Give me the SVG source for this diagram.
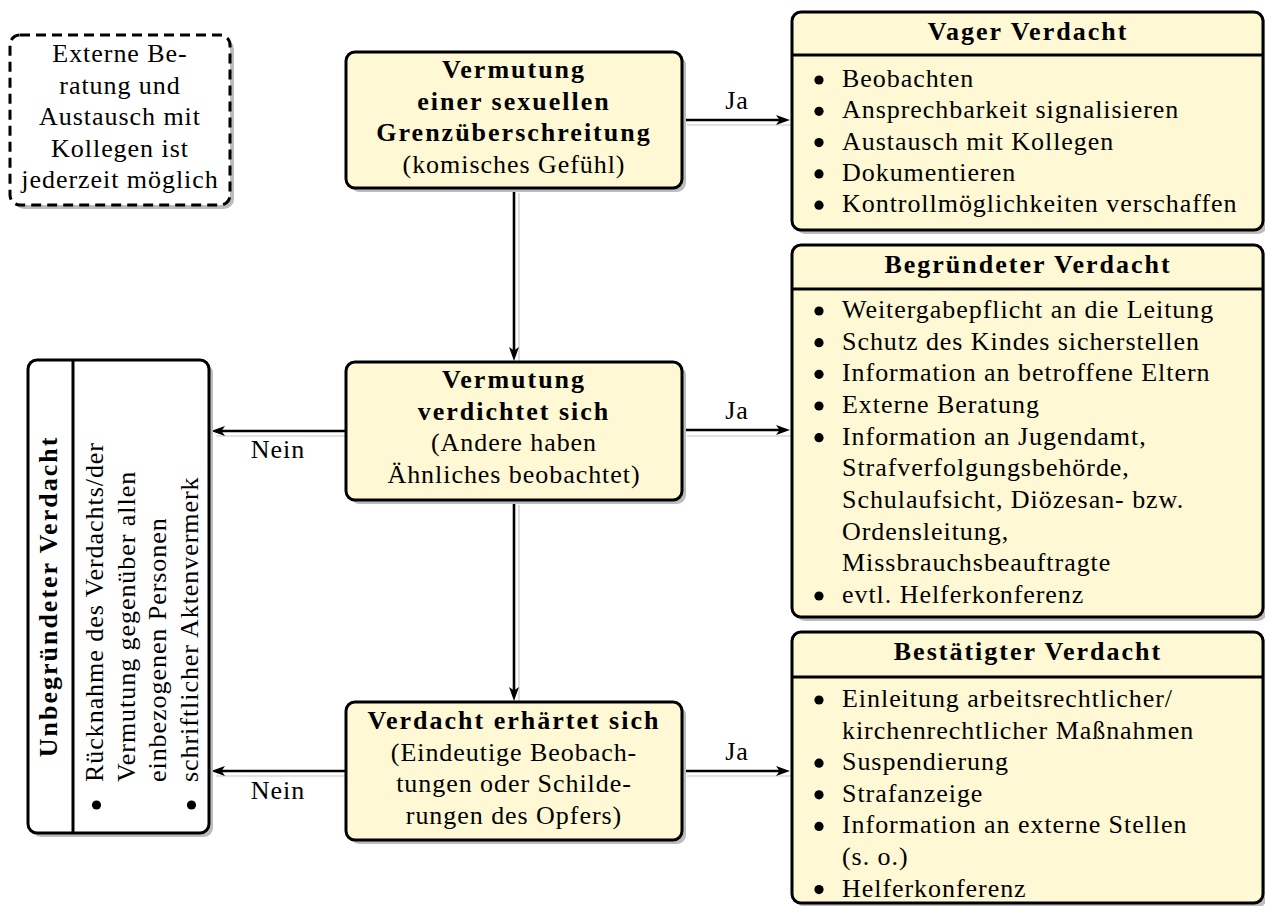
<svg xmlns="http://www.w3.org/2000/svg" width="1265" height="906" viewBox="0 0 1265 906">
<defs>
<style>
.box{fill:#fff8d4;stroke:#000;stroke-width:3}
.wbox{fill:#fff;stroke:#000;stroke-width:3}
.dbox{fill:#fff;stroke:#000;stroke-width:3;stroke-dasharray:10 6}
.sh{fill:#bcbcbc}
.div{stroke:#000;stroke-width:3}
.t{font-family:"Liberation Serif","Times New Roman",serif;font-size:26px;letter-spacing:0.95px;fill:#000}
.b{font-weight:bold;letter-spacing:2px}
.c{text-anchor:middle}
.conn{stroke:#000;stroke-width:2.6;fill:none}
.cs{stroke:#c6c6c6;stroke-width:1.2;fill:none}
.dot{fill:#000}
</style>
<marker id="arr" viewBox="0 0 14 10" refX="4" refY="5" markerWidth="14" markerHeight="10" markerUnits="userSpaceOnUse" orient="auto">
<path d="M0,0 L14,5 L0,10 L3.5,5 Z" fill="#000"/>
</marker>
</defs>
<rect width="1265" height="906" fill="#fff"/>

<g id="connectors">
<g class="cs">
<line x1="519" y1="193" x2="519" y2="366"/>
<line x1="519" y1="505" x2="519" y2="706"/>
<line x1="687" y1="125" x2="796" y2="125"/>
<line x1="687" y1="436" x2="796" y2="436"/>
<line x1="687" y1="776" x2="796" y2="776"/>
<line x1="351" y1="436" x2="216" y2="436"/>
<line x1="351" y1="776" x2="216" y2="776"/>
</g>
<line class="conn" x1="514" y1="188" x2="514" y2="351" marker-end="url(#arr)"/>
<line class="conn" x1="514" y1="500" x2="514" y2="691" marker-end="url(#arr)"/>
<line class="conn" x1="682" y1="120" x2="780" y2="120" marker-end="url(#arr)"/>
<line class="conn" x1="682" y1="430" x2="780" y2="430" marker-end="url(#arr)"/>
<line class="conn" x1="682" y1="771" x2="780" y2="771" marker-end="url(#arr)"/>
<line class="conn" x1="346" y1="431" x2="221" y2="431" marker-end="url(#arr)"/>
<line class="conn" x1="346" y1="771" x2="221" y2="771" marker-end="url(#arr)"/>
<text class="t c" x="737" y="109">Ja</text>
<text class="t c" x="737" y="419">Ja</text>
<text class="t c" x="737" y="760">Ja</text>
<text class="t c" x="278" y="458">Nein</text>
<text class="t c" x="278" y="799">Nein</text>
</g>

<g id="note">
<rect class="sh" x="14" y="39" width="220" height="170" rx="10"/>
<rect class="dbox" x="10" y="35" width="220" height="170" rx="10"/>
<text class="t c" x="120" y="62">Externe Be-</text>
<text class="t c" x="120" y="93.5">ratung und</text>
<text class="t c" x="120" y="125">Austausch mit</text>
<text class="t c" x="120" y="156.5">Kollegen ist</text>
<text class="t c" x="120" y="188">jederzeit möglich</text>
</g>

<g id="n1">
<rect class="sh" x="350" y="56" width="336" height="136" rx="9"/>
<rect class="box" x="346" y="52" width="336" height="136" rx="9"/>
<text class="t b c" x="514" y="78">Vermutung</text>
<text class="t b c" x="514" y="109.5">einer sexuellen</text>
<text class="t b c" x="514" y="141">Grenzüberschreitung</text>
<text class="t c" x="514" y="172.5">(komisches Gefühl)</text>
</g>

<g id="n2">
<rect class="sh" x="350" y="366" width="336" height="138" rx="9"/>
<rect class="box" x="346" y="362" width="336" height="138" rx="9"/>
<text class="t b c" x="514" y="388">Vermutung</text>
<text class="t b c" x="514" y="419.5">verdichtet sich</text>
<text class="t c" x="514" y="451">(Andere haben</text>
<text class="t c" x="514" y="482.5">Ähnliches beobachtet)</text>
</g>

<g id="n3">
<rect class="sh" x="350" y="706" width="336" height="138" rx="9"/>
<rect class="box" x="346" y="702" width="336" height="138" rx="9"/>
<text class="t b c" x="514" y="729">Verdacht erhärtet sich</text>
<text class="t c" x="514" y="760.5">(Eindeutige Beobach-</text>
<text class="t c" x="514" y="792">tungen oder Schilde-</text>
<text class="t c" x="514" y="823.5">rungen des Opfers)</text>
</g>

<g id="vager">
<rect class="sh" x="796" y="16" width="471" height="218" rx="9"/>
<rect class="box" x="792" y="12" width="471" height="218" rx="9"/>
<line class="div" x1="792" y1="55" x2="1263" y2="55"/>
<text class="t b c" x="1028" y="40">Vager Verdacht</text>
<circle class="dot" cx="819" cy="80" r="4.6"/>
<circle class="dot" cx="819" cy="111.3" r="4.6"/>
<circle class="dot" cx="819" cy="142.6" r="4.6"/>
<circle class="dot" cx="819" cy="173.9" r="4.6"/>
<circle class="dot" cx="819" cy="205.2" r="4.6"/>
<text class="t" x="842" y="87">Beobachten</text>
<text class="t" x="842" y="118.3">Ansprechbarkeit signalisieren</text>
<text class="t" x="842" y="149.6">Austausch mit Kollegen</text>
<text class="t" x="842" y="180.9">Dokumentieren</text>
<text class="t" x="842" y="212.2">Kontrollmöglichkeiten verschaffen</text>
</g>

<g id="begruendet">
<rect class="sh" x="796" y="249" width="471" height="372" rx="9"/>
<rect class="box" x="792" y="245" width="471" height="372" rx="9"/>
<line class="div" x1="792" y1="289" x2="1263" y2="289"/>
<text class="t b c" x="1028" y="273">Begründeter Verdacht</text>
<circle class="dot" cx="819" cy="311" r="4.6"/>
<circle class="dot" cx="819" cy="342.7" r="4.6"/>
<circle class="dot" cx="819" cy="374.3" r="4.6"/>
<circle class="dot" cx="819" cy="406" r="4.6"/>
<circle class="dot" cx="819" cy="437.7" r="4.6"/>
<circle class="dot" cx="819" cy="596" r="4.6"/>
<text class="t" x="842" y="318">Weitergabepflicht an die Leitung</text>
<text class="t" x="842" y="349.7">Schutz des Kindes sicherstellen</text>
<text class="t" x="842" y="381.3">Information an betroffene Eltern</text>
<text class="t" x="842" y="413">Externe Beratung</text>
<text class="t" x="842" y="444.7">Information an Jugendamt,</text>
<text class="t" x="842" y="476.3">Strafverfolgungsbehörde,</text>
<text class="t" x="842" y="508">Schulaufsicht, Diözesan- bzw.</text>
<text class="t" x="842" y="539.7">Ordensleitung,</text>
<text class="t" x="842" y="571.3">Missbrauchsbeauftragte</text>
<text class="t" x="842" y="603">evtl. Helferkonferenz</text>
</g>

<g id="bestaetigt">
<rect class="sh" x="796" y="636" width="471" height="271" rx="9"/>
<rect class="box" x="792" y="632" width="471" height="271" rx="9"/>
<line class="div" x1="792" y1="677" x2="1263" y2="677"/>
<text class="t b c" x="1028" y="660">Bestätigter Verdacht</text>
<circle class="dot" cx="819" cy="700" r="4.6"/>
<circle class="dot" cx="819" cy="763.2" r="4.6"/>
<circle class="dot" cx="819" cy="794.8" r="4.6"/>
<circle class="dot" cx="819" cy="826.4" r="4.6"/>
<circle class="dot" cx="819" cy="889.6" r="4.6"/>
<text class="t" x="842" y="707">Einleitung arbeitsrechtlicher/</text>
<text class="t" x="842" y="738.6">kirchenrechtlicher Maßnahmen</text>
<text class="t" x="842" y="770.2">Suspendierung</text>
<text class="t" x="842" y="801.8">Strafanzeige</text>
<text class="t" x="842" y="833.4">Information an externe Stellen</text>
<text class="t" x="842" y="865">(s. o.)</text>
<text class="t" x="842" y="896.6">Helferkonferenz</text>
</g>

<g id="unbegruendet">
<rect class="sh" x="32" y="364" width="181" height="473" rx="9"/>
<rect class="wbox" x="28" y="360" width="181" height="473" rx="9"/>
<line class="div" x1="73" y1="360" x2="73" y2="833"/>
<text class="t b c" transform="translate(57,596.5) rotate(-90)">Unbegründeter Verdacht</text>
<circle class="dot" cx="96.5" cy="805" r="4.6"/>
<circle class="dot" cx="191.5" cy="805" r="4.6"/>
<text class="t" transform="translate(103,782) rotate(-90)">Rücknahme des Verdachts/der</text>
<text class="t" transform="translate(134.7,782) rotate(-90)">Vermutung gegenüber allen</text>
<text class="t" transform="translate(166.3,782) rotate(-90)">einbezogenen Personen</text>
<text class="t" transform="translate(198,782) rotate(-90)">schriftlicher Aktenvermerk</text>
</g>
</svg>
